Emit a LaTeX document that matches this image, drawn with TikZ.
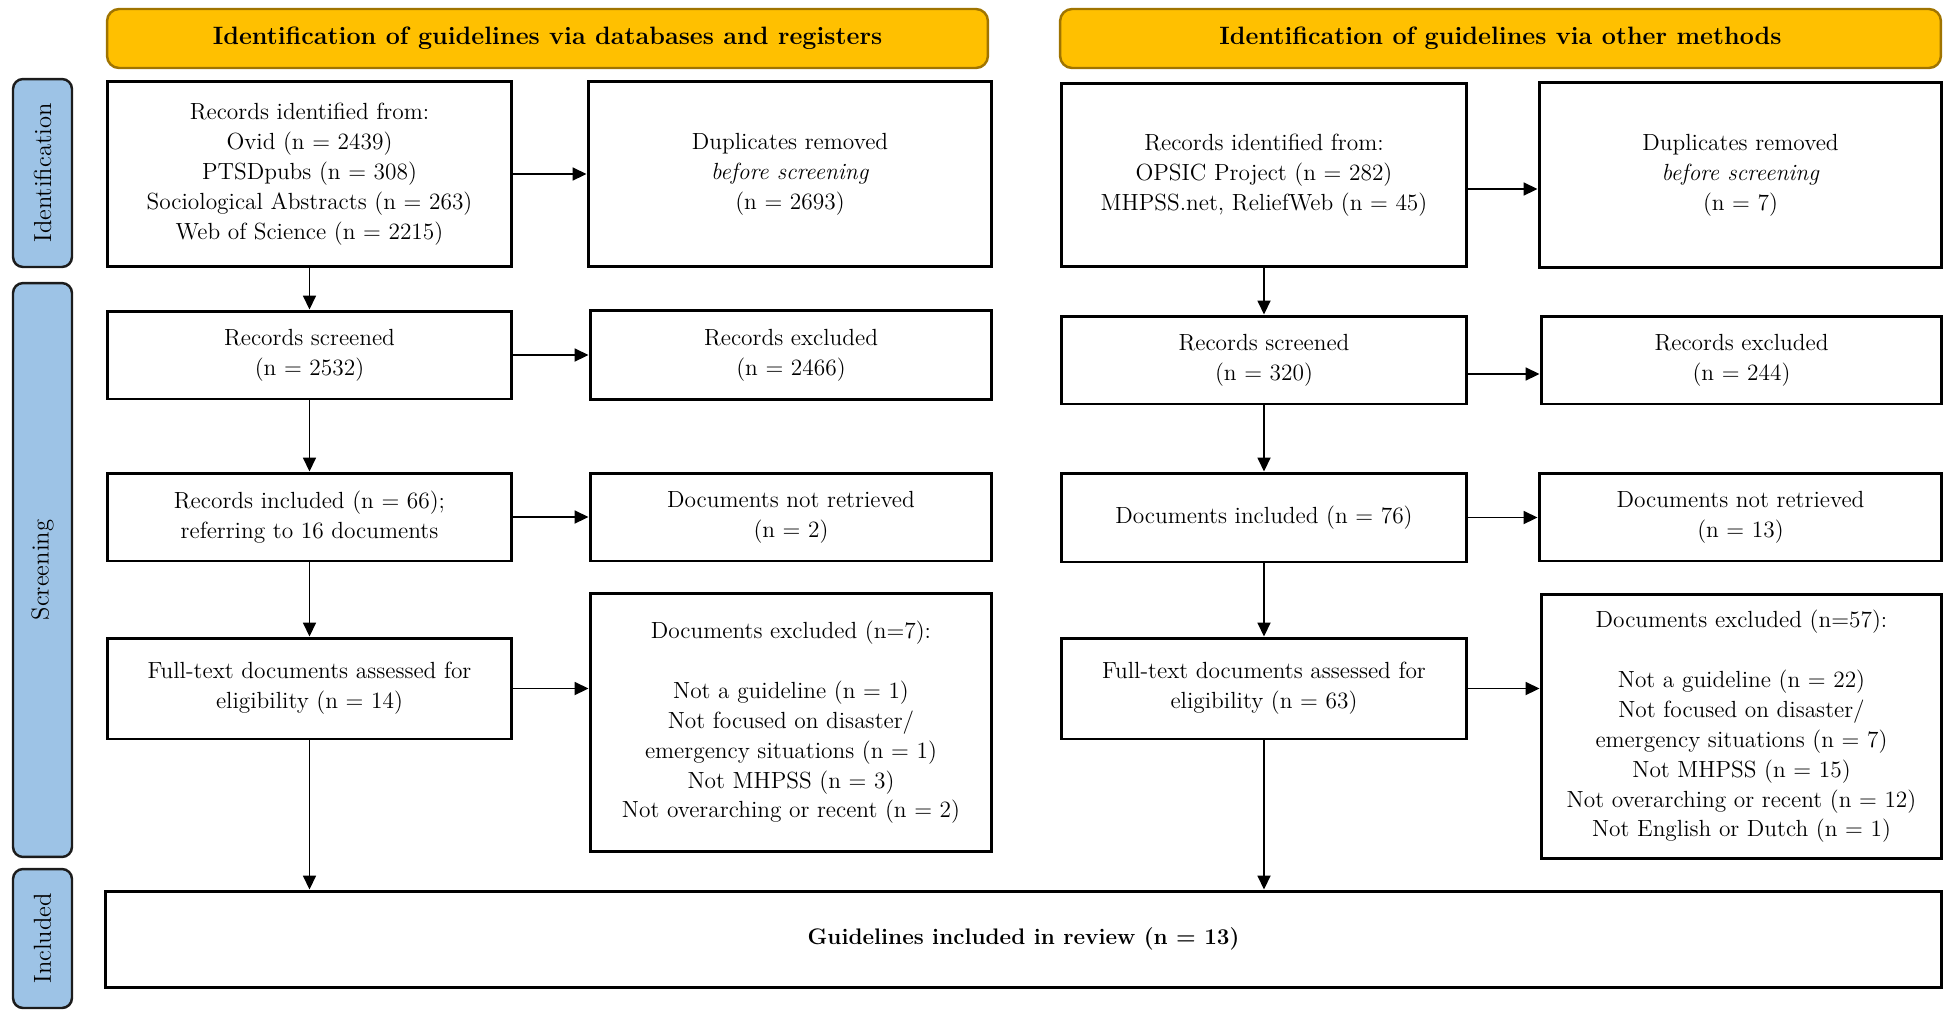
\documentclass[tikz,border=0pt]{standalone}
\usepackage{tikz}
\usetikzlibrary{arrows.meta}
\definecolor{headgold}{HTML}{FFC000}
\definecolor{headedge}{HTML}{A07400}
\definecolor{sideblue}{HTML}{9DC3E6}
\definecolor{sideedge}{HTML}{1C1C1C}

\begin{document}
\begin{tikzpicture}[x = 0.02cm, y = -0.02cm,
  box/.style = {draw, line width = 1.7pt, align = center, inner sep = 0pt, font = \fontsize{13.3}{17}\selectfont},
  header/.style = {draw = headedge, fill = headgold, line width = 1.4pt, rounded corners = 0.24cm, minimum width = 17.62cm, minimum height = 1.18cm, font = \fontsize{14.3}{17}\selectfont\bfseries},
  stage/.style = {draw = sideedge, fill = sideblue, line width = 1.4pt, rounded corners = 0.2cm, minimum height = 1.18cm, rotate = 90, font = \fontsize{14}{17}\selectfont},
  arr/.style = {-{Triangle[length = 0.28cm, width = 0.26cm]}, line width = 1pt}]
\useasboundingbox (0, 0) rectangle (1948, 1009);
\node[header] (hdb) at (547.5, 38.5){Identification of guidelines via databases and registers};
\node[header] (hot) at (1500.5, 38.5){Identification of guidelines via other methods};
\node[stage, minimum width = 3.76cm] (sid) at (42.5, 173){Identification};
\node[stage, minimum width = 11.48cm] (sscr) at (42.5, 570){Screening};
\node[stage, minimum width = 2.78cm] (sinc) at (42.5, 938.5){Included};
\node[box, minimum width = 8.1cm, minimum height = 3.72cm] (lid) at (309.5, 174){Records identified from:\\Ovid (n = 2439)\\PTSDpubs (n = 308)\\Sociological Abstracts (n = 263)\\Web of Science (n = 2215)};
\node[box, minimum width = 8.08cm, minimum height = 3.72cm] (ldup) at (790, 174){Duplicates removed\\\textit{before screening}\\(n = 2693)};
\node[box, minimum width = 8.1cm, minimum height = 1.76cm] (lscr) at (309.5, 355){Records screened\\(n = 2532)};
\node[box, minimum width = 8.04cm, minimum height = 1.78cm] (lexc) at (791, 355){Records excluded\\(n = 2466)};
\node[box, minimum width = 8.1cm, minimum height = 1.76cm] (linc) at (309.5, 517){Records included (n = 66);\\referring to 16 documents};
\node[box, minimum width = 8.04cm, minimum height = 1.76cm] (lnr) at (791, 517){Documents not retrieved\\(n = 2)};
\node[box, minimum width = 8.1cm, minimum height = 2.02cm] (lft) at (309.5, 688.5){Full-text documents assessed for\\eligibility (n = 14)};
\node[box, minimum width = 8.04cm, minimum height = 5.18cm] (lexd) at (791, 722.5){Documents excluded (n=7):\\[17pt]Not a guideline (n = 1)\\Not focused on disaster/\\emergency situations (n = 1)\\Not MHPSS (n = 3)\\Not overarching or recent (n = 2)};
\node[box, minimum width = 8.12cm, minimum height = 3.68cm] (rid) at (1264, 175){Records identified from:\\OPSIC Project (n = 282)\\MHPSS.net, ReliefWeb (n = 45)};
\node[box, minimum width = 8.06cm, minimum height = 3.7cm] (rdup) at (1740.5, 175){Duplicates removed\\\textit{before screening}\\(n = 7)};
\node[box, minimum width = 8.12cm, minimum height = 1.76cm] (rscr) at (1264, 360){Records screened\\(n = 320)};
\node[box, minimum width = 8.02cm, minimum height = 1.76cm] (rexc) at (1741.5, 360){Records excluded\\(n = 244)};
\node[box, minimum width = 8.12cm, minimum height = 1.78cm] (rinc) at (1264, 517.5){Documents included (n = 76)};
\node[box, minimum width = 8.06cm, minimum height = 1.76cm] (rnr) at (1740.5, 517){Documents not retrieved\\(n = 13)};
\node[box, minimum width = 8.12cm, minimum height = 2.02cm] (rft) at (1264, 688.5){Full-text documents assessed for\\eligibility (n = 63)};
\node[box, minimum width = 8.02cm, minimum height = 5.3cm] (rexd) at (1741.5, 726.5){Documents excluded (n=57):\\[17pt]Not a guideline (n = 22)\\Not focused on disaster/\\emergency situations (n = 7)\\Not MHPSS (n = 15)\\Not overarching or recent (n = 12)\\Not English or Dutch (n = 1)};
\node[box, minimum width = 36.74cm, minimum height = 1.92cm, font = \fontsize{12.8}{17}\selectfont\bfseries] (guide) at (1023.5, 939){Guidelines included in review (n = 13)};
\draw[arr] (lid.east) -- (ldup.west);
\draw[arr] (lid.south) -- (lscr.north);
\draw[arr] (lscr.east) -- (lexc.west);
\draw[arr] (lscr.south) -- (linc.north);
\draw[arr] (linc.east) -- (lnr.west);
\draw[arr] (linc.south) -- (lft.north);
\draw[arr] (lft.east) -- (lft.east -| lexd.west);
\draw[arr] (lft.south) -- (lft.south |- guide.north);
\draw[arr] ([yshift = -0.28cm]rid.east) -- ([yshift = -0.28cm]rid.east -| rdup.west);
\draw[arr] (rid.south) -- (rscr.north);
\draw[arr] ([yshift = -0.28cm]rscr.east) -- ([yshift = -0.28cm]rscr.east -| rexc.west);
\draw[arr] (rscr.south) -- (rinc.north);
\draw[arr] (rinc.east) -- (rinc.east -| rnr.west);
\draw[arr] (rinc.south) -- (rft.north);
\draw[arr] (rft.east) -- (rft.east -| rexd.west);
\draw[arr] (rft.south) -- (rft.south |- guide.north);
\end{tikzpicture}
\end{document}
